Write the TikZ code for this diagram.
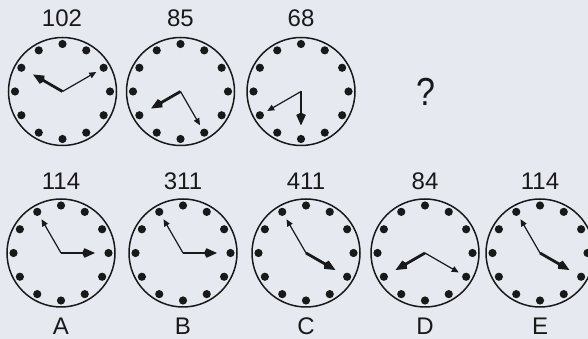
\documentclass[tikz,border=0pt]{standalone}
\usepackage{fontspec}
\setmainfont{Liberation Sans}
\usetikzlibrary{arrows.meta}
\definecolor{bg}{RGB}{230,234,240}
\definecolor{ink}{RGB}{25,25,25}
\tikzset{
 face/.style={circle,draw=ink,line width=1.5pt,minimum size=108pt,inner sep=0pt},
 bighand/.style={draw=ink,line width=2.8pt,-{Kite[length=13pt,width=9.5pt,inset=2.5pt]}},
 smallhand/.style={draw=ink,line width=1.2pt,-{Triangle[length=7pt,width=6pt]}},
 lbl/.style={font=\fontsize{24}{28}\selectfont,text=ink,anchor=base,inner sep=0pt},
}
\newcommand\myclock[5]{%
 \node[face] (#1) at (#2pt,#3pt) {};
 \foreach \a in {0,30,...,330} \fill[ink] (#1.center) ++(\a:47.5pt) circle (4.1pt);
 \draw[bighand] (#1.center) -- ++(#4:34pt);
 \draw[smallhand] (#1.center) -- ++(#5:39pt);
}
\begin{document}
\begin{tikzpicture}[x=1pt,y=1pt]
\fill[bg] (0,0) rectangle (588,339);
\useasboundingbox (0,0) rectangle (588,339);
\clip (0,0) rectangle (588,339);
% top row
\myclock{c1}{62.5}{247.5}{150}{30}
\myclock{c2}{180.5}{247.5}{210}{-60}
\myclock{c3}{301}{247.5}{-90}{210}
\node[lbl] (t1) at (62,312) {102};
\node[lbl] (t2) at (180.5,312) {85};
\node[lbl] (t3) at (301,312) {68};
\node[lbl,font=\fontsize{34}{38}\selectfont,yscale=1.15] (q) at (426,233) {?};
% bottom row
\myclock{ca}{61}{86}{0}{120}
\myclock{cb}{183}{86}{0}{120}
\myclock{cc}{306}{86}{-30}{120}
\myclock{cd}{425}{86}{210}{-30}
\myclock{ce}{540}{86}{-30}{120}
\node[lbl] (na) at (61,149) {114};
\node[lbl] (nb) at (183,149) {311};
\node[lbl] (nc) at (306,149) {411};
\node[lbl] (nd) at (425,149) {84};
\node[lbl] (ne) at (540,149) {114};
\node[lbl] (la) at (61,4) {A};
\node[lbl] (lb) at (183,4) {B};
\node[lbl] (lc) at (306,4) {C};
\node[lbl] (ld) at (425,4) {D};
\node[lbl] (le) at (540,4) {E};
\end{tikzpicture}
\end{document}
